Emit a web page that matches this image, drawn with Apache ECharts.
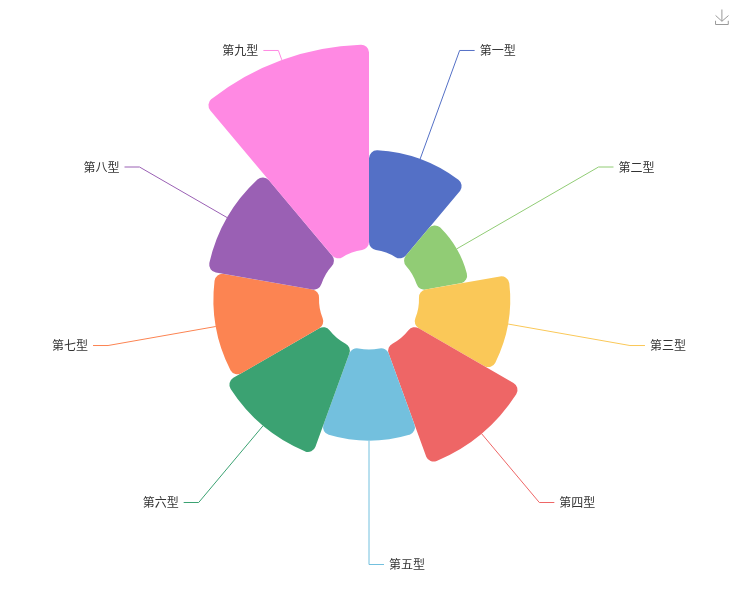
<!DOCTYPE html>
<html><head><meta charset="utf-8">
<style>html,body{margin:0;padding:0;background:#fff}#c{width:738px;height:600px}</style>
<script src="https://cdn.jsdelivr.net/npm/echarts@6/dist/echarts.min.js"></script>
</head><body><div id="c"></div>
<script>
const categories = ['第一型','第二型','第三型','第四型','第五型','第六型','第七型','第八型','第九型'];
const values = [48.5,25,44.5,61,44.5,56,51.5,55.5,100];
const colors = ['#5470c6','#91cc75','#fac858','#ee6666','#73c0de','#3ba272','#fc8452','#9a60b4','#ff89e3'];
const chart = echarts.init(document.getElementById('c'));
chart.setOption({
  animation:false,
  color: colors,
  toolbox:{show:true,right:-8,top:-8,iconStyle:{borderColor:'#999'},feature:{saveAsImage:{show:true}}},
  series:[{
    type:'pie',
    roseType:'area',
    center:['50%',299.5],
    radius:[50,255],
    itemStyle:{borderRadius:8},
    label:{fontSize:12,color:'#333',fontFamily:'"Noto Sans CJK SC"'},
    labelLine:{length:10,length2:15},
    data:categories.map((name,i)=>({name,value:values[i]}))
  }]
});
</script></body></html>
